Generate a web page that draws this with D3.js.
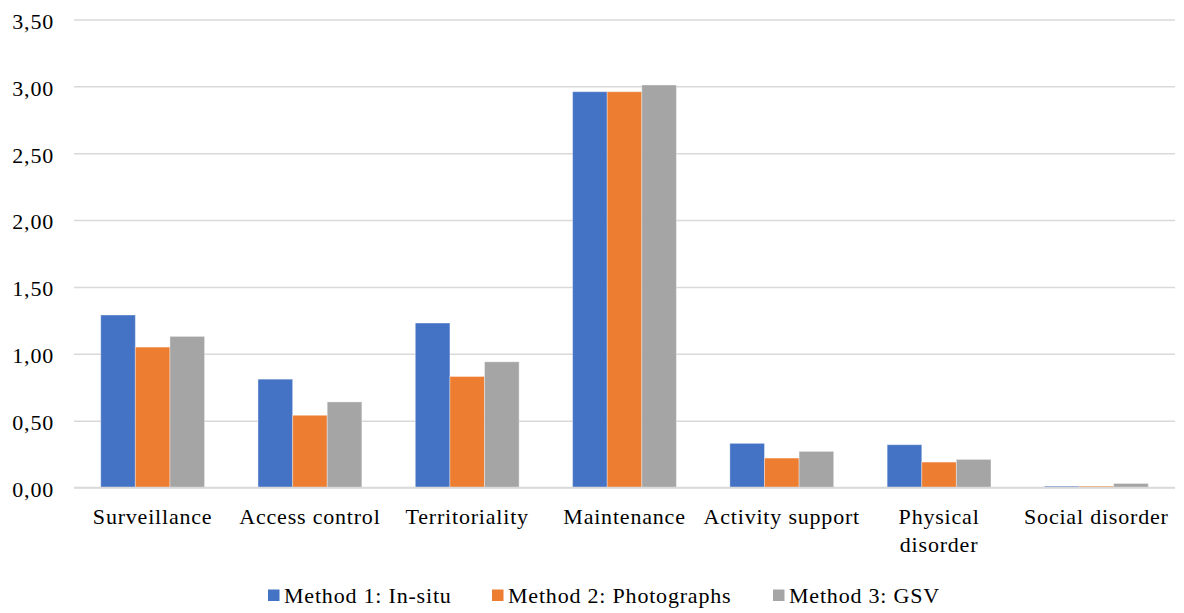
<!DOCTYPE html>
<html>
<head>
<meta charset="utf-8">
<script src="https://cdn.jsdelivr.net/npm/d3@7"></script>
<style>
  html, body { margin: 0; padding: 0; background: #fff; }
  svg { display: block; }
</style>
</head>
<body>
<svg id="chart" width="1184" height="613"></svg>
<script>
// Mean scores per CPTED dimension for each survey method
const categories = ["Surveillance", "Access control", "Territoriality", "Maintenance",
                    "Activity support", "Physical disorder", "Social disorder"];
const categoryLines = [["Surveillance"], ["Access control"], ["Territoriality"], ["Maintenance"],
                       ["Activity support"], ["Physical", "disorder"], ["Social disorder"]];
const seriesNames = ["Method 1: In-situ", "Method 2: Photographs", "Method 3: GSV"];
const method1 = [1.29, 0.81, 1.23, 2.96, 0.33, 0.32, 0.01];
const method2 = [1.05, 0.54, 0.83, 2.96, 0.22, 0.19, 0.01];
const method3 = [1.13, 0.64, 0.94, 3.01, 0.27, 0.21, 0.03];
const yTicks = [0, 0.5, 1, 1.5, 2, 2.5, 3, 3.5];
const colors = ["#4472C4", "#ED7D31", "#A5A5A5"];

const seriesValues = [method1, method2, method3];
const FONT = "Liberation Serif";
const svg = d3.select("#chart").attr("font-family", FONT);

const plot = { left: 74, right: 1175, top: 19.5, bottom: 487.5 };

const x = d3.scaleBand().domain(categories).range([plot.left, plot.right]).padding(0);
const groupWidth = x.bandwidth() * 0.66;
const xs = d3.scaleBand().domain(d3.range(seriesNames.length)).range([-groupWidth / 2, groupWidth / 2]).padding(0);
const y = d3.scaleLinear().domain([0, 3.5]).range([plot.bottom, plot.top]);

const fmt = v => d3.format(".2f")(v).replace(".", ",");

function textStyle(sel, size) {
  sel.attr("font-family", FONT)
     .style("font-family", FONT)
     .style("font-size", size + "px")
     .style("letter-spacing", "0.8px")
     .attr("fill", "#000");
}

// Horizontal gridlines with tick labels
const yAxis = d3.axisLeft(y).tickValues(yTicks).tickSize(-(plot.right - plot.left)).tickFormat(fmt).tickPadding(20);
const gy = svg.append("g").attr("transform", `translate(${plot.left},0)`).call(yAxis);
gy.attr("font-family", null).attr("font-size", null);
gy.select(".domain").remove();
gy.selectAll(".tick line").attr("stroke", "#d9d9d9").attr("stroke-width", 1.5);
gy.selectAll(".tick text").call(textStyle, 22).attr("dy", "0.4em");

// Bars
const groups = svg.append("g").selectAll("g")
  .data(categories)
  .join("g")
  .attr("transform", d => `translate(${x(d) + x.bandwidth() / 2},0)`);

groups.selectAll("rect")
  .data((d, i) => seriesValues.map((vals, s) => ({ s, v: vals[i] })))
  .join("rect")
  .attr("x", d => xs(d.s))
  .attr("width", xs.bandwidth())
  .attr("y", d => y(d.v))
  .attr("height", d => y(0) - y(d.v))
  .attr("fill", d => colors[d.s])
  .attr("stroke", "rgba(255,255,255,0.35)")
  .attr("stroke-width", 1);

// Baseline gridline drawn above bars
svg.append("line")
  .attr("x1", plot.left).attr("x2", plot.right)
  .attr("y1", y(0)).attr("y2", y(0))
  .attr("stroke", "#d9d9d9").attr("stroke-width", 1.5);

// Category labels
const xLabels = svg.append("g").selectAll("text")
  .data(categories)
  .join("text")
  .attr("x", d => x(d) + x.bandwidth() / 2)
  .attr("y", 524)
  .attr("text-anchor", "middle")
  .call(textStyle, 22);
xLabels.each(function (d, i) {
  d3.select(this).selectAll("tspan")
    .data(categoryLines[i])
    .join("tspan")
    .attr("x", x(d) + x.bandwidth() / 2)
    .attr("dy", (t, j) => j === 0 ? 0 : 28)
    .text(t => t);
});

// Legend
const legendTextX = [284, 508, 789];
const legend = svg.append("g").selectAll("g")
  .data(seriesNames)
  .join("g")
  .attr("transform", (d, i) => `translate(${legendTextX[i]},0)`);
legend.append("rect")
  .attr("x", -16).attr("y", 589.5).attr("width", 11.5).attr("height", 11.5)
  .attr("fill", (d, i) => colors[i]);
legend.append("text")
  .attr("x", 0).attr("y", 602.5)
  .call(textStyle, 22)
  .text(d => d);
</script>
</body>
</html>
